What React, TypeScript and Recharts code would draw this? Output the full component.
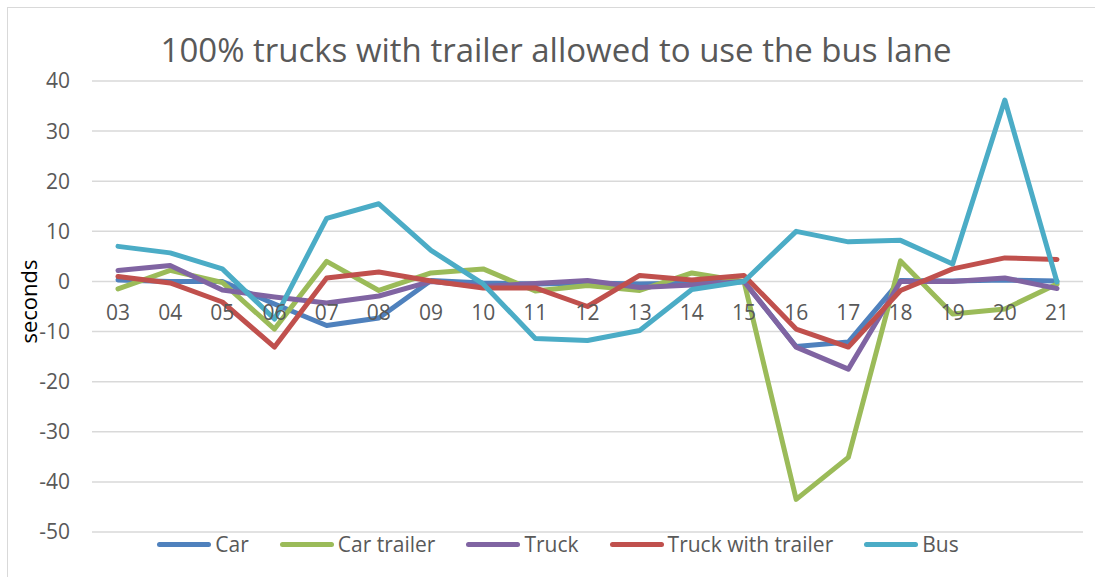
import React from 'react';
import { LineChart, Line, XAxis, YAxis, CartesianGrid } from 'recharts';

const hours = ['03', '04', '05', '06', '07', '08', '09', '10', '11', '12', '13', '14', '15', '16', '17', '18', '19', '20', '21'];
const car = [0.3, 0, 0, -4.5, -8.8, -7.3, 0.2, -0.3, -0.5, -0.3, -0.5, -0.3, 0, -13, -12.1, 0.2, 0.1, 0.3, 0.1];
const carTrailer = [-1.5, 2.2, -0.2, -9.5, 4.0, -1.8, 1.7, 2.5, -1.9, -0.8, -1.8, 1.7, 0, -43.5, -35.1, 4.1, -6.5, -5.5, -0.5];
const truck = [2.2, 3.2, -1.7, -3.1, -4.3, -2.9, 0, -1.0, -0.4, 0.2, -1.2, -0.7, 0, -13.1, -17.5, 0, 0, 0.7, -1.4];
const truckTrailer = [1.0, -0.3, -4.1, -13.1, 0.7, 1.9, 0.1, -1.3, -1.3, -5.0, 1.2, 0.3, 1.2, -9.5, -13.1, -1.8, 2.5, 4.7, 4.4];
const bus = [7.0, 5.7, 2.5, -7.5, 12.6, 15.5, 6.2, -0.5, -11.4, -11.8, -9.8, -1.6, 0, 10.0, 7.9, 8.2, 3.5, 36.2, -0.1];
const yTicks = [-50, -40, -30, -20, -10, 0, 10, 20, 30, 40];

const seriesNames = ['Car', 'Car trailer', 'Truck', 'Truck with trailer', 'Bus'];
const seriesValues = [car, carTrailer, truck, truckTrailer, bus];
const seriesColors = ['#4F81BD', '#9BBB59', '#8064A2', '#C0504D', '#4BACC6'];

const title = '100% trucks with trailer allowed to use the bus lane';
const yLabel = 'seconds';

const data = hours.map((h, i) => {
  const row: Record<string, string | number> = { hour: h };
  seriesNames.forEach((n, k) => {
    row[n] = seriesValues[k][i];
  });
  return row;
});

const W = 1095;
const H = 577;
const MARGIN = { top: 81, right: 12, bottom: 0, left: 0 };
const X_AXIS_H = 45;
const Y_MIN = -50;
const Y_MAX = 40;
const FONT = '"Open Sans", "Noto Sans", sans-serif';
const TEXT = '#595959';
const GRID = '#d9d9d9';

const plotH = H - MARGIN.top - MARGIN.bottom - X_AXIS_H;
const zeroY = MARGIN.top + (plotH * Y_MAX) / (Y_MAX - Y_MIN);

const HourTick = (props: any) => {
  const { x, payload } = props;
  return (
    <text x={x} y={zeroY + 39} textAnchor="middle" fill={TEXT} fontSize={21} fontFamily={FONT}>
      {payload.value}
    </text>
  );
};

const SecondsLabel = (props: any) => {
  const vb = props.viewBox || { x: 0, y: 0, width: 0, height: 0 };
  const bx = vb.x + 37;
  const cy = vb.y + vb.height / 2 - 5;
  return (
    <text
      transform={`translate(${bx}, ${cy}) rotate(-90)`}
      x={0}
      y={0}
      textAnchor="middle"
      fill="#000"
      fontSize={22}
      fontFamily={FONT}
    >
      {yLabel}
    </text>
  );
};

export default function App() {
  return (
    <div
      style={{
        position: 'absolute',
        left: 0,
        top: 0,
        width: W,
        height: H,
        overflow: 'hidden',
        background: '#fff',
        fontFamily: FONT,
      }}
    >
      <div
        style={{
          position: 'absolute',
          left: 7,
          top: 7,
          width: 1120,
          height: 620,
          border: `1px solid ${GRID}`,
          boxSizing: 'border-box',
        }}
      />
      <div
        style={{
          position: 'absolute',
          left: 0,
          width: 1112,
          top: 33,
          textAlign: 'center',
          fontSize: 33,
          lineHeight: '33px',
          color: TEXT,
          whiteSpace: 'nowrap',
        }}
      >
        {title}
      </div>
      <div style={{ position: 'absolute', left: 0, top: 0 }}>
        <LineChart width={W} height={H} data={data} margin={MARGIN}>
          <CartesianGrid horizontal vertical={false} stroke={GRID} strokeWidth={1.5} />
          <XAxis
            dataKey="hour"
            height={X_AXIS_H}
            axisLine={false}
            tickLine={false}
            tick={<HourTick />}
            interval={0}
            padding={{ left: 26, right: 26 }}
          />
          <YAxis
            width={92}
            domain={[Y_MIN, Y_MAX]}
            ticks={yTicks}
            interval={0}
            axisLine={false}
            tickLine={false}
            tickSize={0}
            tickMargin={22}
            tick={{ fill: TEXT, fontSize: 21, fontFamily: FONT }}
            label={<SecondsLabel />}
          />
          {seriesNames.map((n, k) => (
            <Line
              key={n}
              dataKey={n}
              stroke={seriesColors[k]}
              strokeWidth={5}
              strokeLinecap="round"
              strokeLinejoin="round"
              dot={false}
              activeDot={false}
              isAnimationActive={false}
            />
          ))}
        </LineChart>
      </div>
      <div
        style={{
          position: 'absolute',
          left: 0,
          width: 1116,
          top: 531,
          height: 26,
          display: 'flex',
          justifyContent: 'center',
          alignItems: 'center',
          fontSize: 21,
          color: TEXT,
        }}
      >
        {seriesNames.map((n, k) => (
          <div key={n} style={{ display: 'flex', alignItems: 'center', marginRight: k < seriesNames.length - 1 ? 31 : 0 }}>
            <div style={{ width: 54, height: 5, borderRadius: 3, background: seriesColors[k], marginRight: 4 }} />
            <span style={{ lineHeight: '26px', whiteSpace: 'nowrap' }}>{n}</span>
          </div>
        ))}
      </div>
    </div>
  );
}
